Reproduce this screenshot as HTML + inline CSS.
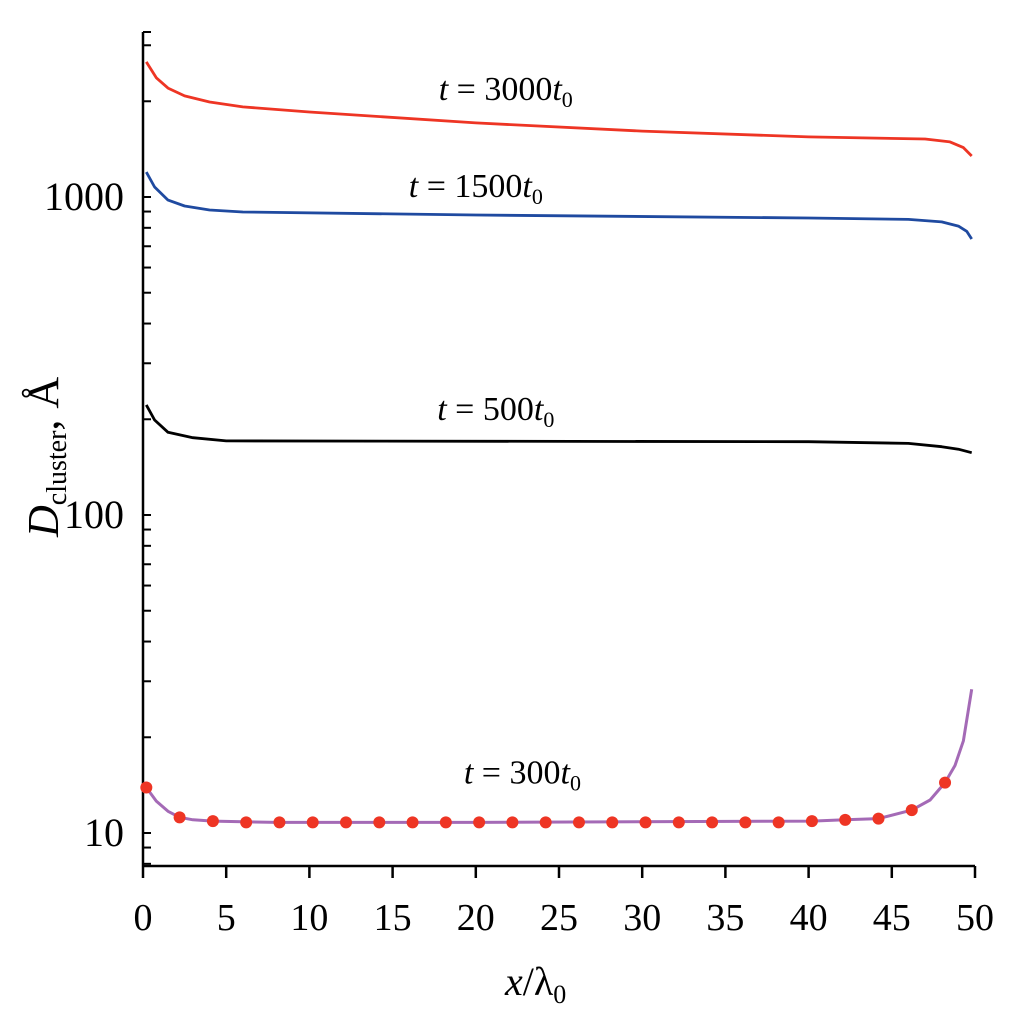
<!DOCTYPE html>
<html><head><meta charset="utf-8"><style>
body{margin:0;background:#fff}
svg{display:block}
text{font-family:"Liberation Serif",serif;fill:#000}
</style></head><body>
<svg id="chart" width="1010" height="1034" viewBox="0 0 1010 1034">
<g id="axes"></g>
<g id="series"></g>
<text x="0" y="0" transform="translate(58,537) rotate(-90)" font-size="44"><tspan font-style="italic">D</tspan><tspan font-size="28" dy="8">cluster</tspan><tspan dy="-8">, Å</tspan></text>
<text x="505" y="995" font-size="40"><tspan font-style="italic">x</tspan>/λ<tspan font-size="26" dy="8">0</tspan></text>
</svg>
<script>
const xTicks=[0,5,10,15,20,25,30,35,40,45,50];
const yMajor=[10,100,1000];
const yMinor=[8,9,20,30,40,50,60,70,80,90,200,300,400,500,600,700,800,900,2000,3000];
const xRed=[0.2,0.8,1.5,2.5,4,6,10,20,30,40,47,48.5,49.3,49.8];
const yRed=[2660,2370,2200,2080,1990,1920,1850,1710,1612,1545,1522,1490,1430,1346];
const xBlue=[0.2,0.7,1.5,2.5,4,6,20,40,46,48,49,49.5,49.8];
const yBlue=[1198,1075,978,937,910,897,878,859,850,835,810,780,738];
const xBlack=[0.2,0.7,1.5,3,5,40,46,48,49,49.8];
const yBlack=[222,199,182,175,171,170,168,164,161,157];
const xPurple=[0.2,0.8,1.5,2.2,3,4.2,8,20,40.2,42.2,44.2,46.2,47.3,48.2,48.8,49.3,49.8];
const yPurple=[13.9,12.6,11.7,11.2,11.0,10.9,10.8,10.8,10.9,11.0,11.1,11.8,12.7,14.4,16.3,19.5,28.3];
const xDots=[0.2,2.2,4.2,6.2,8.2,10.2,12.2,14.2,16.2,18.2,20.2,22.2,24.2,26.2,28.2,30.2,32.2,34.2,36.2,38.2,40.2,42.2,44.2,46.2,48.2];
const yDots=[13.9,11.2,10.9,10.8,10.8,10.8,10.8,10.8,10.8,10.8,10.8,10.8,10.8,10.8,10.8,10.8,10.8,10.8,10.8,10.8,10.9,11.0,11.1,11.8,14.4];
const labels=["t = 3000","t = 1500","t = 500","t = 300"];
const labelX=[21.8,20,21.2,22.8];
const labelVal=[2018,1000,199,14.3];

const NS="http://www.w3.org/2000/svg";
const X0=143,X1=975,YB=866,YT=32;
function sx(v){return X0+(X1-X0)*v/50;}
function sy(v){return 197-318*Math.log10(v/1000);}
function mk(tag,attrs,parent){const e=document.createElementNS(NS,tag);for(const k in attrs)e.setAttribute(k,attrs[k]);parent.appendChild(e);return e;}
const ax=document.getElementById('axes'),sr=document.getElementById('series');
let e=mk('line',{x1:X0,y1:YT,x2:X0,y2:YB,stroke:'#000','stroke-width':2.5},ax);


e=mk('line',{x1:X0,y1:YB,x2:X1,y2:YB,stroke:'#000','stroke-width':2.5},ax);


e=mk('line',{x1:X0,y1:YT,x2:X0+8,y2:YT,stroke:'#000','stroke-width':2},ax);


xTicks.forEach(v=>{
  let t=mk('line',{x1:sx(v),y1:YB,x2:sx(v),y2:YB+12,stroke:'#000','stroke-width':2.5},ax);
  
  
  let l=mk('text',{x:sx(v),y:930,'text-anchor':'middle','font-size':38},ax);l.textContent=v;
  
  
});
yMajor.concat(yMinor).forEach(v=>{
  const y=sy(v);if(y<YT||y>YB)return;
  let t=mk('line',{x1:X0,y1:y,x2:X0+8,y2:y,stroke:'#000','stroke-width':2},ax);
  
  
});
yMajor.forEach(v=>{
  let l=mk('text',{x:124,y:sy(v)+13,'text-anchor':'end','font-size':40},ax);l.textContent=v;
  
  
});
function line(xs,ys,col,name,w){
  const d=xs.map((x,i)=>(i?'L':'M')+sx(x).toFixed(1)+','+sy(ys[i]).toFixed(1)).join('');
  let p=mk('path',{d:d,fill:'none',stroke:col,'stroke-width':w||2.8,'stroke-linejoin':'round'},sr);
  
  
}
line(xRed,yRed,'#ee3524','line-t3000');
line(xBlue,yBlue,'#1f4aa0','line-t1500');
line(xBlack,yBlack,'#000','line-t500');
line(xPurple,yPurple,'#a46ab6','line-t300',3);
xDots.forEach((x,i)=>{
  let c=mk('circle',{cx:sx(x),cy:sy(yDots[i]),r:6,fill:'#ee3524'},sr);
  
  
});
labels.forEach((s,i)=>{
  const g=mk('text',{x:sx(labelX[i]),y:sy(labelVal[i]),'text-anchor':'middle','font-size':34},sr);
  
  
  const parts=s.split(' = ');
  g.innerHTML='<tspan font-style="italic">'+parts[0]+'</tspan> = '+parts[1]+'<tspan font-style="italic">t</tspan><tspan font-size="22" dy="7">0</tspan>';
});
</script>
</body></html>
